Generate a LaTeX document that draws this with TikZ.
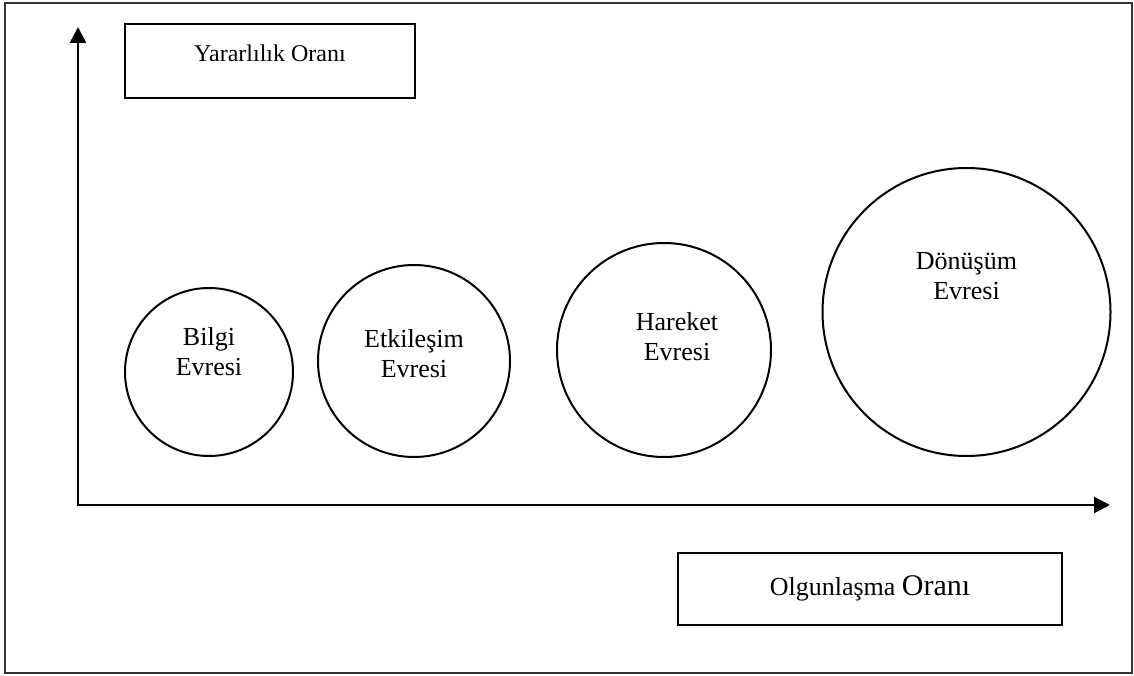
\documentclass[tikz,border=0pt]{standalone}
\usepackage{fontspec}
\setmainfont{Liberation Serif}
\usetikzlibrary{arrows.meta, positioning}
\tikzstyle{ratiobox}  = [rectangle, draw=black, line width=1pt, inner sep=0pt,
                         font=\fontsize{13}{15}\selectfont]
\tikzstyle{phase}     = [circle, draw=black, line width=1pt, inner sep=0pt]
\tikzstyle{phasetext} = [align=center, inner sep=0pt,
                         font=\fontsize{13}{15}\selectfont]
\tikzstyle{axis}      = [{Triangle[length=8pt, width=8pt]}-{Triangle[length=8pt, width=8pt]},
                         line width=1.2pt]

\begin{document}
\begin{tikzpicture}[x=0.5pt, y=0.5pt]
  \useasboundingbox (0,0) rectangle (1134,675);
  \draw[line width=1pt, black!80] (5,2) rectangle (1132,672);

  % axes
  \coordinate (origin) at (78,170);
  \coordinate (ytip) at (78,648);
  \coordinate (xtip) at (1110,170);
  \draw[axis] (ytip) -- (origin) -- (xtip);

  \node[ratiobox, minimum width=145pt, text height=19pt, text depth=18pt,
        font=\fontsize{12}{14}\selectfont] (yratio) at (270,614) {Yararlılık Oranı};
  \node[ratiobox, minimum width=192pt, text height=21pt, text depth=15pt]
        (xratio) at (870,86) {Olgunlaşma {\fontsize{15}{17}\selectfont Oranı}};

  % phases
  \node[phase, minimum size=84pt,
        label={[phasetext, yshift=10pt]center:{Bilgi\\Evresi}}] (bilgi) at (209,303) {};
  \node[phase, minimum size=96pt,
        label={[phasetext, yshift=3.75pt]center:{Etkileşim\\Evresi}}] (etkilesim) at (414,314) {};
  \node[phase, minimum size=107pt,
        label={[phasetext, xshift=6.5pt, yshift=6.75pt]center:{Hareket\\Evresi}}] (hareket) at (664,325) {};
  \node[phase, minimum size=144pt,
        label={[phasetext, yshift=18pt]center:{Dönüşüm\\Evresi}}] (donusum) at (966.5,363) {};
\end{tikzpicture}
\end{document}
